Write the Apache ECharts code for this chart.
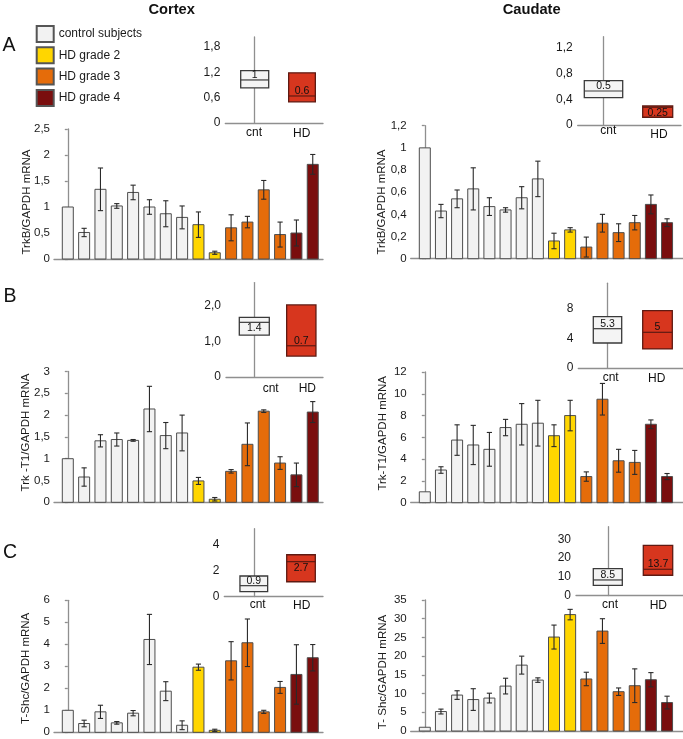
<!DOCTYPE html>
<html><head><meta charset="utf-8">
<script src="https://cdn.jsdelivr.net/npm/echarts@6/dist/echarts.min.js"></script>
<style>html,body{margin:0;padding:0;background:#fff}#c{width:683px;height:739px}</style>
</head><body><div id="c"></div>
<script>
// ---------- DATA ----------
const groupNames = ['control subjects', 'HD grade 2', 'HD grade 3', 'HD grade 4'];
const groupOfBar = [0,0,0,0,0,0,0,0,1,1,2,2,2,2,3,3];

const cortexTrkB    = [1.0, 0.51, 1.34, 1.02, 1.28, 1.0, 0.87, 0.80, 0.66, 0.12, 0.60, 0.71, 1.33, 0.47, 0.50, 1.82];
const cortexTrkBErr = [0, 0.08, 0.41, 0.045, 0.14, 0.14, 0.25, 0.22, 0.245, 0.03, 0.25, 0.11, 0.18, 0.24, 0.25, 0.19];
const caudateTrkB    = [1.0, 0.43, 0.54, 0.63, 0.47, 0.44, 0.55, 0.72, 0.16, 0.26, 0.105, 0.32, 0.235, 0.325, 0.49, 0.325];
const caudateTrkBErr = [0, 0.06, 0.08, 0.19, 0.08, 0.02, 0.10, 0.16, 0.07, 0.02, 0.09, 0.08, 0.08, 0.065, 0.085, 0.035];
const cortexT1    = [1.0, 0.58, 1.41, 1.44, 1.42, 2.14, 1.53, 1.59, 0.49, 0.07, 0.71, 1.33, 2.09, 0.90, 0.63, 2.07];
const cortexT1Err = [0, 0.21, 0.14, 0.15, 0.02, 0.52, 0.30, 0.41, 0.08, 0.04, 0.04, 0.49, 0.03, 0.145, 0.27, 0.24];
const caudateT1    = [1.0, 3.0, 5.75, 5.3, 4.9, 6.9, 7.2, 7.3, 6.15, 8.0, 2.4, 9.5, 3.85, 3.7, 7.2, 2.4];
const caudateT1Err = [0, 0.3, 1.4, 1.8, 1.55, 0.75, 1.9, 2.1, 1.0, 1.4, 0.43, 1.45, 1.05, 1.1, 0.4, 0.28];
const cortexShc    = [1.0, 0.40, 0.93, 0.43, 0.87, 4.22, 1.87, 0.32, 2.96, 0.09, 3.25, 4.07, 0.93, 2.04, 2.63, 3.39];
const cortexShcErr = [0, 0.15, 0.30, 0.06, 0.12, 1.14, 0.43, 0.20, 0.14, 0.05, 0.87, 1.08, 0.07, 0.27, 1.35, 0.60];
const caudateShc    = [1.0, 5.2, 9.6, 8.4, 8.8, 12.0, 17.6, 13.6, 25.1, 31.1, 13.9, 26.7, 10.5, 12.1, 13.7, 7.6];
const caudateShcErr = [0, 0.65, 1.15, 2.9, 1.3, 2.1, 2.4, 0.6, 3.2, 1.4, 1.8, 3.3, 1.0, 4.5, 1.9, 1.7];

const insetCategories = ['cnt', 'HD'];
// [low, median, high] for cnt and HD
const cortexTrkBBox  = [[0.83, 1.02, 1.24], [0.50, 0.64, 1.19]];
const cortexTrkBBoxLabels  = ['1', '0.6'];
const caudateTrkBBox = [[0.424, 0.528, 0.688], [0.12, 0.275, 0.295]];
const caudateTrkBBoxLabels = ['0.5', '0.25'];
const cortexT1Box    = [[1.18, 1.54, 1.68], [0.59, 0.88, 2.03]];
const cortexT1BoxLabels    = ['1.4', '0.7'];
const caudateT1Box   = [[3.39, 5.33, 6.96], [2.58, 4.84, 7.77]];
const caudateT1BoxLabels   = ['5.3', '5'];
const cortexShcBox   = [[0.37, 0.83, 1.57], [1.13, 2.67, 3.2]];
const cortexShcBoxLabels   = ['0.9', '2.7'];
const caudateShcBox  = [[5.4, 8.3, 14.3], [10.8, 14.0, 26.8]];
const caudateShcBoxLabels  = ['8.5', '13.7'];

// ---------- STYLE / LAYOUT ----------
const FF = '"Liberation Sans", Arial, Helvetica, sans-serif';
const barColors = ['#F2F2F2', '#FFD600', '#E56C0A', '#7A0E0E'];
const axisColor = '#8f8f8f';
const textColor = '#1a1a1a';

const cortexCol  = {left: 54,    right: 323, c0: 67.8,  step: 16.33};
const caudateCol = {left: 410.7, right: 683, c0: 424.8, step: 16.15};

const mainPanels = [
  {v: cortexTrkB,  e: cortexTrkBErr,  col: cortexCol,  top: 129,   zero: 259,   max: 2.5, interval: 0.5, name: 'TrkB/GAPDH mRNA',    nx: 26.5, ny: 202},
  {v: caudateTrkB, e: caudateTrkBErr, col: caudateCol, top: 125.7, zero: 258.7, max: 1.2, interval: 0.2, name: 'TrkB/GAPDH mRNA',    nx: 381.7, ny: 202},
  {v: cortexT1,    e: cortexT1Err,    col: cortexCol,  top: 371.5, zero: 502.3, max: 3,   interval: 0.5, name: 'Trk -T1/GAPDH mRNA', nx: 26.2, ny: 432.5},
  {v: caudateT1,   e: caudateT1Err,   col: caudateCol, top: 372,   zero: 502.7, max: 12,  interval: 2,   name: 'Trk-T1/GAPDH mRNA',  nx: 383.3, ny: 433.3},
  {v: cortexShc,   e: cortexShcErr,   col: cortexCol,  top: 600.3, zero: 732.3, max: 6,   interval: 1,   name: 'T-Shc/GAPDH mRNA',   nx: 25.8, ny: 668.3},
  {v: caudateShc,  e: caudateShcErr,  col: caudateCol, top: 600,   zero: 731,   max: 35,  interval: 5,   name: 'T- Shc/GAPDH mRNA',  nx: 382.5, ny: 672}
];

const insets = [
  {box: cortexTrkBBox, labels: cortexTrkBBoxLabels, axisX: 225.3, right: 323, zero: 123, ppu: 42.2, max: 2.04, interval: 0.6, dec: -1,
   centers: [254.7, 302], widths: [28, 26.7], capDx: [-0.7, -0.3], capDy: [10, 11], pos: ['above', 'above']},
  {box: caudateTrkBBox, labels: caudateTrkBBoxLabels, axisX: 577.7, right: 681, zero: 125, ppu: 64.4, max: 1.37, interval: 0.4, dec: -1,
   centers: [603.5, 657.7], widths: [38.4, 30], capDx: [4.8, 1.3], capDy: [5.6, 9.7], pos: ['above', 'below']},
  {box: cortexT1Box, labels: cortexT1BoxLabels, axisX: 226, right: 323, zero: 377, ppu: 35.5, max: 2.66, interval: 1, dec: 1,
   centers: [254.3, 301.3], widths: [30, 29.3], capDx: [16.4, 6], capDy: [11.2, 12], pos: ['below', 'above']},
  {box: caudateT1Box, labels: caudateT1BoxLabels, axisX: 578.3, right: 683, zero: 368, ppu: 7.375, max: 11.5, interval: 4, dec: -1,
   centers: [607.5, 657.5], widths: [28.4, 29.6], capDx: [3.2, -0.8], capDy: [9.2, 10.5], pos: ['above', 'above']},
  {box: cortexShcBox, labels: cortexShcBoxLabels, axisX: 224.3, right: 323, zero: 596.5, ppu: 13.05, max: 5.2, interval: 2, dec: -1,
   centers: [253.8, 301], widths: [27.7, 28.6], capDx: [3.9, 0.7], capDy: [7.7, 8.7], pos: ['above', 'below']},
  {box: caudateShcBox, labels: caudateShcBoxLabels, axisX: 576, right: 683, zero: 595.5, ppu: 1.873, max: 36.7, interval: 10, dec: -1,
   centers: [607.8, 658], widths: [29, 29.4], capDx: [2.2, 0.3], capDy: [8.9, 9.7], pos: ['above', 'above']}
];

function fmtComma(v, dec) {
  if (Math.abs(v) < 1e-9) return '0';
  const s = dec >= 0 ? v.toFixed(dec) : String(+v.toFixed(3));
  return s.replace('.', ',');
}

const grid = [], xAxis = [], yAxis = [], series = [];
const lineStyle = {color: axisColor, width: 1.3};

mainPanels.forEach((p, k) => {
  const g = grid.length;
  grid.push({left: p.col.left, top: p.top, width: p.col.right - p.col.left, height: p.zero - p.top, outerBoundsMode: 'none', containLabel: false});
  xAxis.push({type: 'value', gridIndex: g,
    min: (p.col.left - p.col.c0) / p.col.step, max: (p.col.right - p.col.c0) / p.col.step,
    axisLine: {show: true, onZero: false, lineStyle}, axisTick: {show: false}, axisLabel: {show: false}, splitLine: {show: false}});
  yAxis.push({type: 'value', gridIndex: g, min: 0, max: p.max, interval: p.interval,
    axisLine: {show: true, lineStyle}, axisTick: {show: true, length: 3, lineStyle},
    axisLabel: {fontSize: 11.5, fontFamily: FF, color: textColor, margin: 4, formatter: v => fmtComma(v, -1)},
    splitLine: {show: false}});
  const barW = 11;
  series.push({type: 'custom', xAxisIndex: g, yAxisIndex: g, clip: false, silent: true, animation: false,
    encode: {x: 0, y: 1},
    data: p.v.map((val, i) => [i, val, p.e[i], groupOfBar[i]]),
    renderItem: (params, api) => {
      const i = api.value(0), val = api.value(1), err = api.value(2), gi = api.value(3);
      const t = api.coord([i, val]), b = api.coord([i, 0]);
      const ch = [{type: 'rect', shape: {x: t[0] - barW / 2, y: t[1], width: barW, height: b[1] - t[1]},
        style: {fill: barColors[gi], stroke: '#4d4d4d', lineWidth: 1}}];
      if (err > 0) {
        const hi = api.coord([i, val + err]), lo = api.coord([i, val - err]);
        const cw = 2.6, es = {stroke: '#2a2a2a', lineWidth: 1.1};
        ch.push({type: 'line', shape: {x1: t[0], y1: hi[1], x2: t[0], y2: lo[1]}, style: es});
        ch.push({type: 'line', shape: {x1: t[0] - cw, y1: hi[1], x2: t[0] + cw, y2: hi[1]}, style: es});
        ch.push({type: 'line', shape: {x1: t[0] - cw, y1: lo[1], x2: t[0] + cw, y2: lo[1]}, style: es});
      }
      return {type: 'group', children: ch};
    }});
});

insets.forEach((L) => {
  const g = grid.length;
  const span = L.centers[1] - L.centers[0];
  const h = L.max * L.ppu;
  grid.push({left: L.axisX, top: L.zero - h, width: L.right - L.axisX, height: h, outerBoundsMode: 'none', containLabel: false});
  xAxis.push({type: 'value', gridIndex: g,
    min: (L.axisX - L.centers[0]) / span, max: (L.right - L.centers[0]) / span,
    axisLine: {show: true, onZero: false, lineStyle}, axisTick: {show: false}, axisLabel: {show: false}, splitLine: {show: false}});
  yAxis.push({type: 'value', gridIndex: g, min: 0, max: L.max, interval: L.interval,
    axisLine: {show: true, lineStyle}, axisTick: {show: false},
    axisLabel: {fontSize: 12, fontFamily: FF, color: textColor, margin: 5, showMaxLabel: false,
      formatter: v => {
        const r = v / L.interval;
        if (Math.abs(r - Math.round(r)) > 1e-6) return '';
        return fmtComma(v, L.dec);
      }},
    splitLine: {show: false}});
  series.push({type: 'custom', xAxisIndex: g, yAxisIndex: g, clip: false, silent: true, animation: false,
    encode: {x: 0, y: 2},
    data: L.box.map((b, i) => [i, b[0], b[1], b[2]]),
    renderItem: (params, api) => {
      const i = api.value(0), lo = api.value(1), md = api.value(2), hi = api.value(3);
      const m = api.coord([i, md]), pl = api.coord([i, lo]), ph = api.coord([i, hi]), base = api.coord([i, 0]);
      const w = L.widths[i], x0 = m[0] - w / 2;
      const fill = i === 0 ? '#F4F4F4' : '#D7361E';
      const stroke = i === 0 ? '#3a3a3a' : '#5e1a12';
      const above = L.pos[i] === 'above';
      return {type: 'group', children: [
        {type: 'rect', shape: {x: x0, y: ph[1], width: w, height: pl[1] - ph[1]}, style: {fill, stroke, lineWidth: 1.3}},
        {type: 'line', shape: {x1: x0, y1: m[1], x2: x0 + w, y2: m[1]}, style: {stroke, lineWidth: 1.2}},
        {type: 'text', style: {text: L.labels[i], x: m[0], y: m[1] + 0.5,
          textAlign: 'center', textVerticalAlign: above ? 'bottom' : 'top', fontSize: 10.5, fontFamily: FF, fill: '#111'}},
        {type: 'text', style: {text: insetCategories[i], x: m[0] + L.capDx[i], y: base[1] + L.capDy[i],
          textAlign: 'center', textVerticalAlign: 'middle', fontSize: 12, fontFamily: FF, fill: '#111'}}
      ]};
    }});
});

// legend dummy series
groupNames.forEach((n, i) => {
  series.push({type: 'bar', name: n, xAxisIndex: 0, yAxisIndex: 0, data: [],
    itemStyle: {color: barColors[i], borderColor: '#555', borderWidth: 1.3}});
});

const graphic = [
  {type: 'text', x: 171.7, y: 9.5, style: {text: 'Cortex', textAlign: 'center', textVerticalAlign: 'middle', fontSize: 14.7, fontWeight: 'bold', fontFamily: FF, fill: '#111'}},
  {type: 'text', x: 531.7, y: 9.5, style: {text: 'Caudate', textAlign: 'center', textVerticalAlign: 'middle', fontSize: 14.7, fontWeight: 'bold', fontFamily: FF, fill: '#111'}},
  {type: 'text', x: 9, y: 45.5, style: {text: 'A', textAlign: 'center', textVerticalAlign: 'middle', fontSize: 19.5, fontFamily: FF, fill: '#111'}},
  {type: 'text', x: 10, y: 297, style: {text: 'B', textAlign: 'center', textVerticalAlign: 'middle', fontSize: 19.5, fontFamily: FF, fill: '#111'}},
  {type: 'text', x: 10, y: 553, style: {text: 'C', textAlign: 'center', textVerticalAlign: 'middle', fontSize: 19.5, fontFamily: FF, fill: '#111'}}
];
mainPanels.forEach(p => {
  graphic.push({type: 'text', x: p.nx, y: p.ny, rotation: Math.PI / 2,
    style: {text: p.name, textAlign: 'center', textVerticalAlign: 'middle', fontSize: 11.5, fontFamily: FF, fill: textColor}});
});

const chart = echarts.init(document.getElementById('c'), null, {renderer: 'canvas'});
chart.setOption({
  animation: false,
  backgroundColor: '#fff',
  textStyle: {fontFamily: FF},
  grid, xAxis, yAxis, series, graphic,
  legend: {orient: 'vertical', left: 35.7, top: 25, padding: 0, itemWidth: 17, itemHeight: 16, itemGap: 3.3,
    icon: 'rect', selectedMode: false, data: groupNames,
    textStyle: {fontSize: 12, fontFamily: FF, color: textColor}}
});
</script></body></html>
